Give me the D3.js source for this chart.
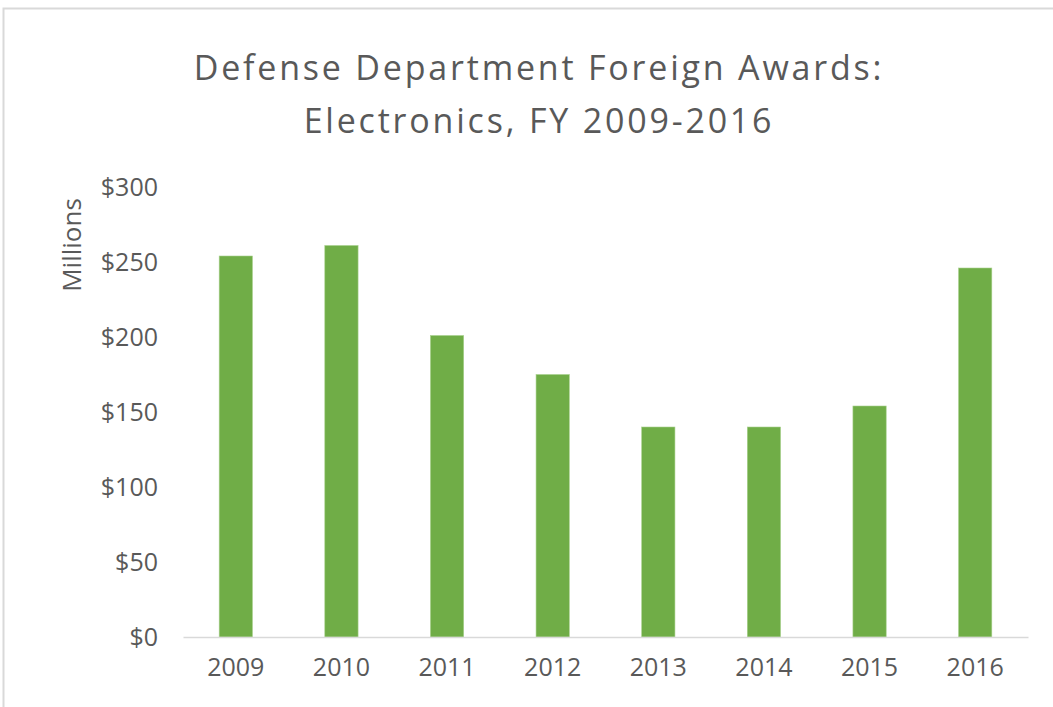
<!DOCTYPE html>
<html><head><meta charset="utf-8">
<script src="https://cdn.jsdelivr.net/npm/d3@7"></script>
<style>body{margin:0;background:#fff;} svg{display:block;}</style>
</head><body>
<svg id="c" width="1053" height="707"></svg>
<script>
const categories = ["2009","2010","2011","2012","2013","2014","2015","2016"];
const values = [254, 261, 201, 175, 140, 140, 154, 246];
const yTicks = [0, 50, 100, 150, 200, 250, 300];
const titleLines = ["Defense Department Foreign Awards:", "Electronics, FY 2009-2016"];
const yLabel = "Millions";

const svg = d3.select("#c");
const font = "'Open Sans', sans-serif";
const gray = "#595959";

// outer border
svg.append("rect").attr("x", 3.5).attr("y", 8.5).attr("width", 1060).attr("height", 720)
  .attr("fill", "#fff").attr("stroke", "#d9d9d9").attr("stroke-width", 2);

const x = d3.scaleBand().domain(categories).range([183, 1028]).paddingInner(0.685).paddingOuter(0.3425);
const y = d3.scaleLinear().domain([0, 300]).range([637, 187]);

// title
svg.append("g").selectAll("text").data(titleLines).join("text")
  .attr("x", 539).attr("y", (d, i) => 80 + i * 53)
  .attr("text-anchor", "middle").attr("font-family", font).attr("font-size", 34)
  .attr("letter-spacing", 2.8)
  .attr("fill", gray).text(d => d);

// y axis
const yAxis = d3.axisLeft(y).tickValues(yTicks).tickSize(0).tickPadding(0)
  .tickFormat(d => "$" + d);
const ya = svg.append("g").attr("transform", "translate(158,0)").call(yAxis);
ya.select(".domain").remove();
ya.selectAll("text").attr("font-family", font).attr("font-size", 25).attr("fill", gray);

// bars
svg.append("g").selectAll("rect").data(values).join("rect")
  .attr("x", (d, i) => x(categories[i]))
  .attr("y", d => y(d))
  .attr("width", x.bandwidth())
  .attr("height", d => y(0) - y(d))
  .attr("fill", "#70AD47").attr("stroke", "#a9d18e").attr("stroke-width", 0.6);

// x axis
const xAxis = d3.axisBottom(x).tickSize(0).tickPadding(21);
const xa = svg.append("g").attr("transform", "translate(0,637)").call(xAxis);
xa.select(".domain").attr("stroke", "#d9d9d9").attr("stroke-width", 1.5);
xa.selectAll("text").attr("font-family", font).attr("font-size", 25).attr("fill", gray);

// y label
svg.append("text").attr("transform", "translate(81,245) rotate(-90)")
  .attr("text-anchor", "middle").attr("font-family", font).attr("font-size", 26)
  .attr("fill", gray).text(yLabel);
</script>
</body></html>
